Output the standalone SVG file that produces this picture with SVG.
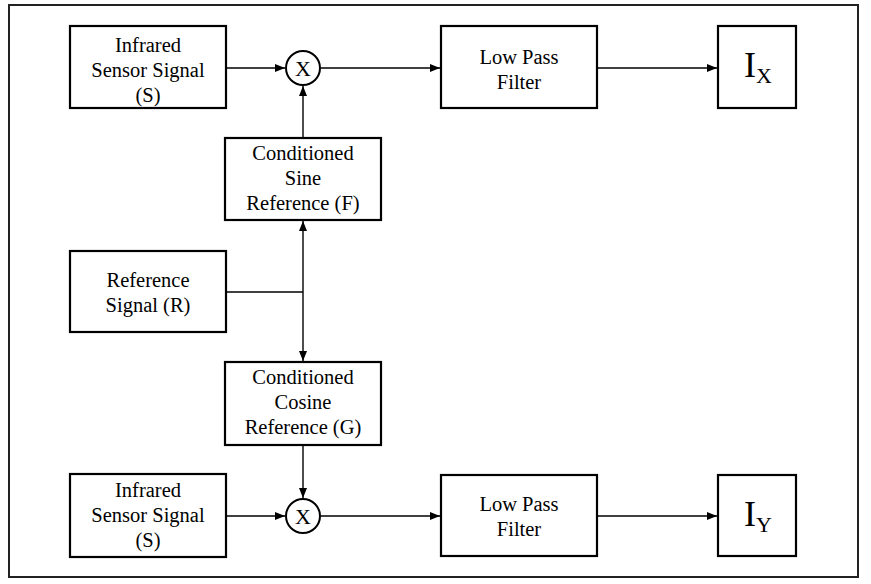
<svg xmlns="http://www.w3.org/2000/svg" width="871" height="584" viewBox="0 0 871 584">
<style>
.box{fill:#fff;stroke:#000;stroke-width:2.2}
.t{font-family:'Liberation Serif','DejaVu Serif',serif;font-size:20.5px;fill:#000;text-anchor:middle}
.big{font-family:'Liberation Serif','DejaVu Serif',serif;font-size:36px;fill:#000}
.sub{font-family:'Liberation Serif','DejaVu Serif',serif;font-size:22px;fill:#000}
.c{fill:none;stroke:#000;stroke-width:1.4}
.m{fill:#fff;stroke:#000;stroke-width:2}
</style>
<defs>
<marker id="a" viewBox="0 0 10 8" refX="10" refY="4" markerWidth="10" markerHeight="8" markerUnits="userSpaceOnUse" orient="auto">
<path d="M0,0 L10,4 L0,8 Z" fill="#000"/>
</marker>
</defs>
<rect x="0" y="0" width="871" height="584" fill="#fff"/>
<rect id="frame" x="9" y="5" width="849" height="572" fill="none" stroke="#222" stroke-width="2"/>
<g id="connectors">
<line class="c" x1="227" y1="68" x2="285" y2="68" marker-end="url(#a)"/>
<line class="c" x1="321" y1="68" x2="440" y2="68" marker-end="url(#a)"/>
<line class="c" x1="597" y1="68" x2="717" y2="68" marker-end="url(#a)"/>
<line class="c" x1="303" y1="138" x2="303" y2="86" marker-end="url(#a)"/>
<line class="c" x1="227" y1="292" x2="303" y2="292"/>
<line class="c" x1="303" y1="292" x2="303" y2="221" marker-end="url(#a)"/>
<line class="c" x1="303" y1="292" x2="303" y2="361" marker-end="url(#a)"/>
<line class="c" x1="303" y1="445" x2="303" y2="498" marker-end="url(#a)"/>
<line class="c" x1="227" y1="516" x2="285" y2="516" marker-end="url(#a)"/>
<line class="c" x1="321" y1="516" x2="440" y2="516" marker-end="url(#a)"/>
<line class="c" x1="597" y1="516" x2="717" y2="516" marker-end="url(#a)"/>
</g>
<g id="ir-top">
<rect class="box" x="70" y="26" width="156" height="82"/>
<text class="t" x="148" y="52">Infrared</text>
<text class="t" x="148" y="77">Sensor Signal</text>
<text class="t" x="148" y="102">(S)</text>
</g>
<g id="mult-top">
<circle class="m" cx="303" cy="68" r="17"/>
<text class="t" x="303" y="76" style="font-size:22px">X</text>
</g>
<g id="lpf-top">
<rect class="box" x="441" y="26" width="156" height="82"/>
<text class="t" x="519" y="64">Low Pass</text>
<text class="t" x="519" y="89">Filter</text>
</g>
<g id="ix">
<rect class="box" x="718" y="26" width="78" height="82"/>
<text x="744" y="77"><tspan class="big">I</tspan><tspan class="sub" dy="6">X</tspan></text>
</g>
<g id="sine">
<rect class="box" x="225" y="138" width="156" height="82"/>
<text class="t" x="303" y="160">Conditioned</text>
<text class="t" x="303" y="185">Sine</text>
<text class="t" x="303" y="210">Reference (F)</text>
</g>
<g id="ref">
<rect class="box" x="70" y="251" width="156" height="81"/>
<text class="t" x="148" y="287">Reference</text>
<text class="t" x="148" y="312">Signal (R)</text>
</g>
<g id="cosine">
<rect class="box" x="225" y="362" width="156" height="83"/>
<text class="t" x="303" y="384">Conditioned</text>
<text class="t" x="303" y="409">Cosine</text>
<text class="t" x="303" y="434">Reference (G)</text>
</g>
<g id="ir-bottom">
<rect class="box" x="70" y="474" width="156" height="83"/>
<text class="t" x="148" y="497">Infrared</text>
<text class="t" x="148" y="522">Sensor Signal</text>
<text class="t" x="148" y="547">(S)</text>
</g>
<g id="mult-bottom">
<circle class="m" cx="303" cy="516" r="17"/>
<text class="t" x="303" y="524" style="font-size:22px">X</text>
</g>
<g id="lpf-bottom">
<rect class="box" x="441" y="475" width="156" height="81"/>
<text class="t" x="519" y="511">Low Pass</text>
<text class="t" x="519" y="536">Filter</text>
</g>
<g id="iy">
<rect class="box" x="718" y="475" width="78" height="81"/>
<text x="744" y="526"><tspan class="big">I</tspan><tspan class="sub" dy="6">Y</tspan></text>
</g>
</svg>
